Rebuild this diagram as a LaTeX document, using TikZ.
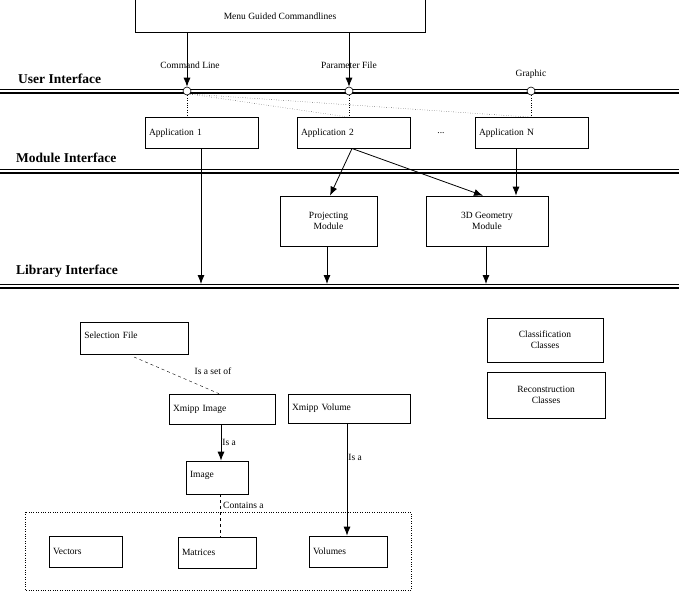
\documentclass[tikz,border=0pt]{standalone}
\usepackage{fontspec}
\setmainfont{Liberation Serif}
\usetikzlibrary{arrows.meta}
\begin{document}
\begin{tikzpicture}[x=1pt,y=-1pt,
 box/.style={draw,line width=0.7pt,rectangle,inner sep=0pt,font=\fontsize{9.5}{11}\selectfont,align=center},
 lbl/.style={font=\fontsize{9.5}{11}\selectfont,inner sep=1pt},
 ttl/.style={font=\bfseries\fontsize{13.5}{14}\selectfont,anchor=west,inner sep=0pt},
 arr/.style={-{Latex[length=9pt,width=7pt]},line width=0.8pt},
 port/.style={circle,draw,fill=white,minimum size=8pt,inner sep=0pt,line width=0.6pt}]
\useasboundingbox (0,0) rectangle (679,592);
\foreach \y in {89,169,284}{
 \draw[line width=0.6pt] (0,\y) -- (679,\y);
 \draw[line width=1.6pt] (0,\y+4) -- (679,\y+4);}
\node[ttl] (ui) at (18,79) {User Interface};
\node[ttl] (mi) at (16,158) {Module Interface};
\node[ttl] (li) at (16,271) {Library Interface};
\node[box,minimum width=290pt,minimum height=33pt] (menu) at (280,16) {Menu Guided Commandlines};
\node[port] (p1) at (187,91) {};
\node[port] (p2) at (349,91) {};
\node[port] (p3) at (531,91) {};
\node[lbl] (l1) at (190,65) {Command Line};
\node[lbl] (l2) at (349,65) {Parameter File};
\node[lbl] (l3) at (531,74) {Graphic};
\draw[arr] (menu.south -| p1) -- (p1.north);
\draw[arr] (menu.south -| p2) -- (p2.north);
\node[box,minimum width=113pt,minimum height=31pt,text width=105pt,align=left] (a1) at (201.5,133) {Application 1};
\node[box,minimum width=113pt,minimum height=31pt,text width=105pt,align=left] (a2) at (353.5,133) {Application 2};
\node[box,minimum width=113pt,minimum height=31pt,text width=105pt,align=left] (an) at (531.5,133) {Application N};
\node[lbl] (dots) at (441,133) {...};
\draw[dotted] (p1.south) -- (p1.south |- a1.north);
\draw[dotted] (p2.south) -- (p2.south |- a2.north);
\draw[dotted] (p3.south) -- (p3.south |- an.north);
\draw[dotted] (p1.south east) -- (p2.south |- a2.north);
\draw[dotted] (p1.south east) -- (p3.south |- an.north);
\node[box,minimum width=97pt,minimum height=50pt] (pm) at (328.5,221) {Projecting\\Module};
\node[box,minimum width=122pt,minimum height=50pt] (gm) at (487,221) {3D Geometry\\Module};
\coordinate (a2b) at (352,148.5);
\draw[arr] (a2b) -- (pm.north -| 330,0);
\draw[arr] (a2b) -- (gm.north -| 483,0);
\draw[arr] (an.south -| 516,0) -- (gm.north -| 516,0);
\coordinate (lib1) at (201,284); \coordinate (lib2) at (327,284); \coordinate (lib3) at (486,284);
\draw[arr] (a1.south -| lib1) -- (lib1);
\draw[arr] (pm.south -| lib2) -- (lib2);
\draw[arr] (gm.south -| lib3) -- (lib3);
\node[box,minimum width=108pt,minimum height=32pt,text width=100pt,align=left,anchor=north west] (sf) at (80,322) {\raisebox{6pt}{Selection File}};
\node[box,minimum width=116pt,minimum height=44pt] (cc) at (545,340) {Classification\\Classes};
\node[box,minimum width=118pt,minimum height=46pt] (rc) at (546,395) {Reconstruction\\Classes};
\node[box,minimum width=106pt,minimum height=30pt,text width=98pt,align=left] (xi) at (222,409) {Xmipp Image};
\node[box,minimum width=122pt,minimum height=29pt,text width=114pt,align=left] (xv) at (349,408.5) {Xmipp Volume};
\node[box,minimum width=62pt,minimum height=33pt,text width=54pt,align=left] (im) at (217,477.5) {\raisebox{6pt}{Image}};
\draw[dashed] (134,357) -- (xi.north -| 219,0);
\node[lbl] (isset) at (213,371) {Is a set of};
\draw[arr] (xi.south -| 221,0) -- (im.north -| 221,0) node[lbl,midway,right] (isa1) {Is a};
\draw[dotted] (25,512) rectangle (411,590);
\node[box,minimum width=73pt,minimum height=31pt,text width=65pt,align=left] (vec) at (85.5,551.5) {Vectors};
\node[box,minimum width=78pt,minimum height=31pt,text width=70pt,align=left] (mat) at (217,552.5) {Matrices};
\node[box,minimum width=78pt,minimum height=31pt,text width=70pt,align=left] (vol) at (348,551.5) {Volumes};
\draw[dashed] (im.south -| 220,0) -- (mat.north -| 220,0);
\node[lbl,anchor=west] (cont) at (222,505) {Contains a};
\draw[arr] (xv.south -| 347,0) -- (vol.north -| 347,0) node[lbl,pos=0.3,right] (isa2) {Is a};
\end{tikzpicture}
\end{document}
